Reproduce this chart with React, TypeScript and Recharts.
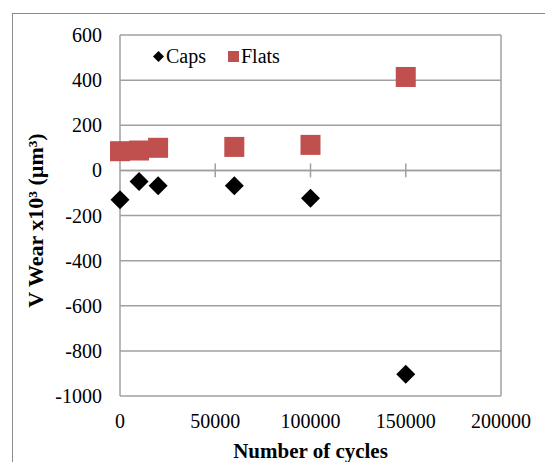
import React from "react";
import {
	ScatterChart,
	Scatter,
	XAxis,
	YAxis,
	CartesianGrid,
	ReferenceLine,
	Legend,
	Label,
} from "recharts";

const cycles = [0, 10000, 20000, 60000, 100000, 150000];
const capsWear = [-130, -49, -68, -68, -123, -904];
const flatsWear = [85, 88, 100, 104, 113, 414];
const xTicks = [0, 50000, 100000, 150000, 200000];
const yTicks = [-1000, -800, -600, -400, -200, 0, 200, 400, 600];

const capsData = cycles.map((c, i) => ({ cycles: c, wear: capsWear[i] }));
const flatsData = cycles.map((c, i) => ({ cycles: c, wear: flatsWear[i] }));

const FONT = "'Liberation Serif', 'Times New Roman', serif";
const GRID = "#a0a0a0";
const RED = "#c0504d";

const tickStyle = { fill: "#000", fontSize: 20, fontFamily: FONT };

const Diamond = (props: any) => {
	const { cx, cy } = props;
	const r = 9.5;
	return (
		<polygon
			points={`${cx},${cy - r} ${cx + r},${cy} ${cx},${cy + r} ${cx - r},${cy}`}
			fill="#000"
		/>
	);
};

const Square = (props: any) => {
	const { cx, cy } = props;
	return <rect x={cx - 10} y={cy - 10} width={20} height={20} fill={RED} />;
};

const renderLegend = (props: any) => {
	const { payload = [] } = props;
	return (
		<div
			style={{
				display: "flex",
				alignItems: "center",
				fontFamily: FONT,
				fontSize: 20,
				color: "#000",
				lineHeight: "24px",
			}}
		>
			{payload.map((entry: any, i: number) => (
				<div key={i} style={{ display: "flex", alignItems: "center", marginLeft: i ? 22 : 0 }}>
					<svg width={11} height={11}>
						{entry.type === "diamond" ? (
							<polygon points="5.5,0 11,5.5 5.5,11 0,5.5" fill="#000" />
						) : (
							<rect width={11} height={11} fill={RED} />
						)}
					</svg>
					<span style={{ marginLeft: 2 }}>{entry.value}</span>
				</div>
			))}
		</div>
	);
};

export default function App() {
	return (
		<div
			id="wear-chart"
			style={{
				position: "absolute",
				left: 0,
				top: 0,
				width: 545,
				height: 462,
				background: "#fff",
				overflow: "hidden",
				fontFamily: FONT,
			}}
		>
			<style>{`#wear-chart svg text, #wear-chart svg tspan { font-family: 'Liberation Serif', 'Times New Roman', serif !important; }`}</style>
			<div
				style={{
					position: "absolute",
					left: 12,
					top: 13,
					width: 600,
					height: 500,
					border: "1.5px solid #8c8c8c",
				}}
			/>
			<div style={{ position: "absolute", left: 0, top: 0 }}>
				<ScatterChart width={545} height={462} margin={{ top: 35, right: 44, bottom: 0, left: 0 }}>
					<CartesianGrid vertical={false} stroke={GRID} strokeWidth={1.5} />
					<XAxis
						type="number"
						dataKey="cycles"
						domain={[0, 200000]}
						ticks={xTicks}
						interval={0}
						axisLine={false}
						tickLine={false}
						tickMargin={12}
						height={66}
						tick={tickStyle}
					>
						<Label
							content={({ viewBox }: any) => (
								<text
									x={viewBox.x + viewBox.width / 2}
									y={viewBox.y + viewBox.height - 4}
									textAnchor="middle"
									fontFamily={FONT}
									fontSize={21}
									fontWeight="bold"
									fill="#000"
								>
									Number of cycles
								</text>
							)}
						/>
					</XAxis>
					<YAxis
						type="number"
						dataKey="wear"
						domain={[-1000, 600]}
						ticks={yTicks}
						interval={0}
						width={120}
						axisLine={{ stroke: GRID, strokeWidth: 1.5 }}
						tickLine={false}
						tickMargin={12}
						tick={tickStyle}
					>
						<Label
							content={({ viewBox }: any) => {
								const cx = 43;
								const cy = viewBox.y + viewBox.height / 2 + 5;
								return (
									<text
										x={cx}
										y={cy}
										transform={`rotate(-90 ${cx} ${cy})`}
										textAnchor="middle"
										fontFamily={FONT}
										fontSize={22}
										fontWeight="bold"
										fill="#000"
									>
										V Wear x10³ (µm³)
									</text>
								);
							}}
						/>
					</YAxis>
					<ReferenceLine y={0} stroke={GRID} strokeWidth={1.5} />
					<ReferenceLine x={200000} stroke={GRID} strokeWidth={1.5} />
					{xTicks.slice(1, -1).map((t) => (
						<ReferenceLine
							key={t}
							segment={[
								{ x: t, y: -31 },
								{ x: t, y: 31 },
							]}
							stroke={GRID}
							strokeWidth={1.5}
						/>
					))}
					<Legend
						layout="horizontal"
						verticalAlign="middle"
						align="center"
						content={renderLegend}
						wrapperStyle={{ left: 153, top: 44, width: 180 }}
					/>
					<Scatter
						name="Caps"
						data={capsData}
						legendType="diamond"
						shape={Diamond}
						isAnimationActive={false}
					/>
					<Scatter
						name="Flats"
						data={flatsData}
						legendType="square"
						shape={Square}
						isAnimationActive={false}
					/>
				</ScatterChart>
			</div>
		</div>
	);
}
